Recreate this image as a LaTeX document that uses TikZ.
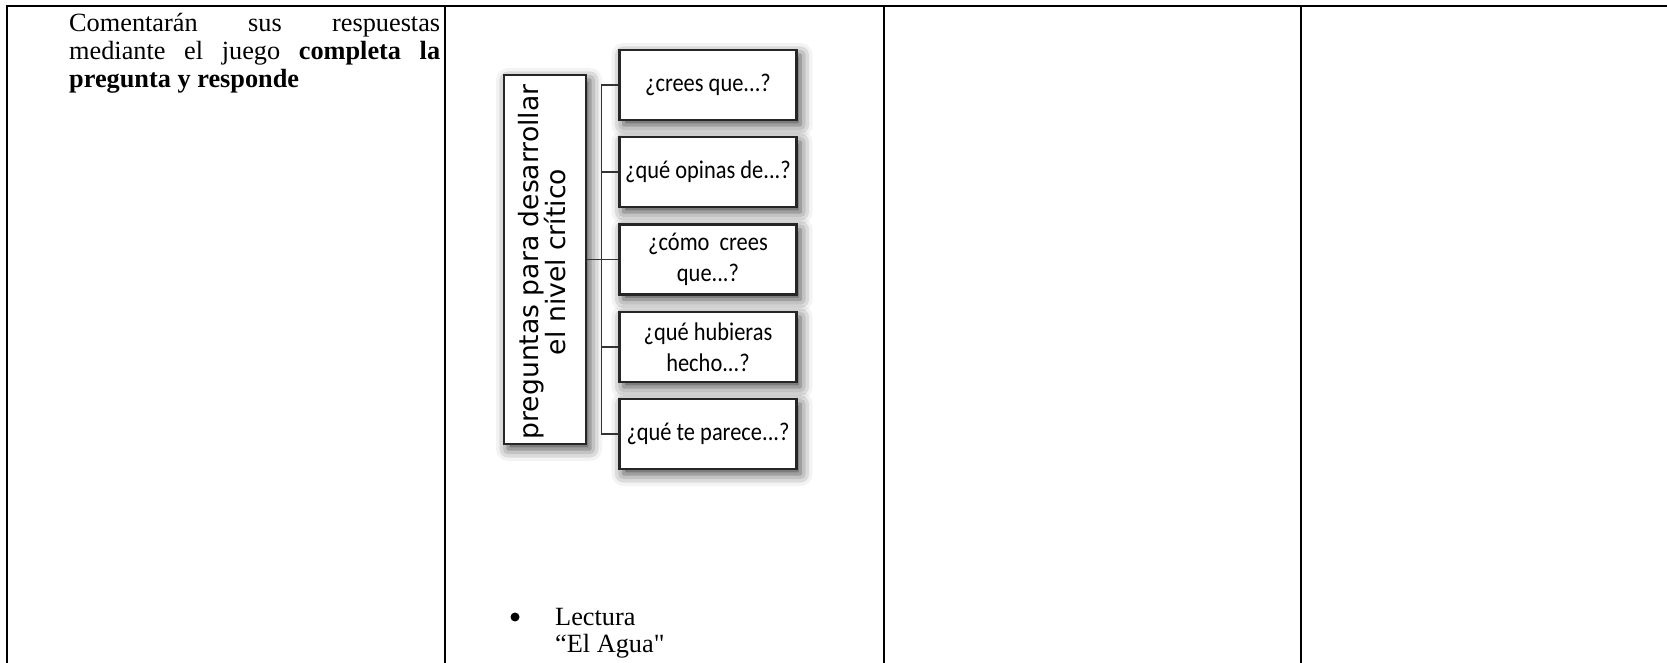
\documentclass[tikz,border=0pt]{standalone}
\usepackage{fontspec}
\usepackage{graphicx}
\setmainfont{Liberation Serif}
\newfontfamily\boxfont{Carlito}
\newfontfamily\rotfont{DejaVu Sans}
\usetikzlibrary{shadows.blur}
\newcommand\sqz[1]{\scalebox{0.88}[1]{#1}}
\begin{document}
\begin{tikzpicture}[x=1pt,y=-1pt,
  tline/.style={line width=2pt, black},
  qbox/.style={draw=black!85, line width=2.2pt, fill=white, inner sep=0pt,
    minimum width=177pt, minimum height=70pt, align=center,
    font=\boxfont\fontsize{25.5}{31}\selectfont,
    blur shadow={shadow xshift=4pt, shadow yshift=-5pt, shadow blur radius=12pt, shadow opacity=75}},
  conn/.style={draw=black!80, line width=1.8pt},
  body/.style={font=\fontsize{26.3}{28}\selectfont, inner sep=0pt, anchor=base west}]
\useasboundingbox (0,0) rectangle (1667,663);
% table rules
\draw[tline] (6,6) -- (1667,6);
\draw[tline] (7,5) -- (7,663);
\draw[tline] (445,5) -- (445,663);
\draw[tline] (884,5) -- (884,663);
\draw[tline] (1301,5) -- (1301,663);
% first column text
\node[body] (t1) at (69,31.5) {\makebox[371pt][s]{Comentarán sus respuestas}};
\node[body] (t2) at (69,59.5) {\makebox[371pt][s]{mediante el juego \textbf{completa la}}};
\node[body] (t3) at (69,87.5) {\textbf{pregunta y responde}};
% diagram
\node[qbox, minimum width=82pt, minimum height=369pt] (main) at (545,259.5) {};
\node[rotate=90, align=center, inner sep=0pt, font=\rotfont\fontsize{26.6}{26}\selectfont] (mtext) at (542,262) {preguntas para desarrollar\\el nivel crítico};
\node[qbox] (b1) at (708,85) {\sqz{¿crees que...?}};
\node[qbox] (b2) at (708,172) {\sqz{¿qué opinas de...?}};
\node[qbox] (b3) at (708,259.5) {\sqz{¿cómo\ \ crees}\\\sqz{que...?}};
\node[qbox] (b4) at (708,347) {\sqz{¿qué hubieras}\\\sqz{hecho...?}};
\node[qbox] (b5) at (708,434) {\sqz{¿qué te parece...?}};
\draw[conn] (b1.west) -- ++(-17,0) coordinate (s1);
\draw[conn] (s1) |- (b5.west);
\draw[conn] (b2.west) -- (b2.west -| s1);
\draw[conn] (b4.west) -- (b4.west -| s1);
\draw[conn] (main.east) -- (b3.west);
% reading
\node[circle, fill, inner sep=0pt, minimum size=9pt] (bul) at (515,617) {};
\node[body] (lec1) at (555,625) {Lectura};
\node[body] (lec2) at (555,652) {“El Agua\textquotedbl};
\end{tikzpicture}
\end{document}
